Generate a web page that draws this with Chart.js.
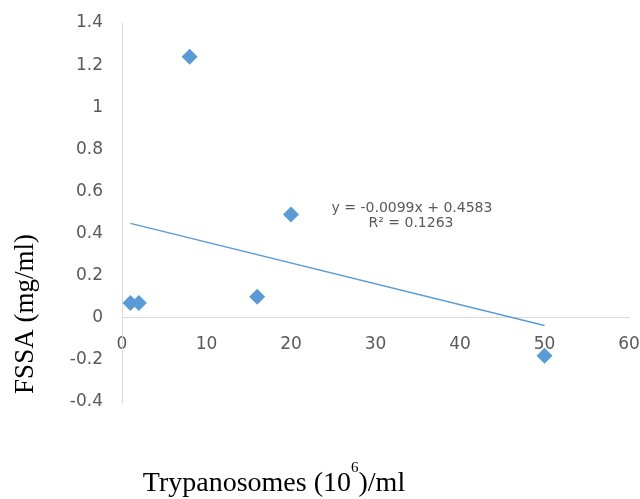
<!DOCTYPE html>
<html>
<head>
<meta charset="utf-8">
<script src="https://cdn.jsdelivr.net/npm/chart.js@4.4.1/dist/chart.umd.min.js"></script>
<style>
    html, body { margin: 0; padding: 0; background: #fff; }
</style>
</head>
<body>
<canvas id="fssaChart" width="640" height="499"></canvas>
<script>
// data
const xValues = [1, 2, 8, 16, 20, 50];
const yValues = [0.07, 0.07, 1.24, 0.10, 0.49, -0.18];

// linear trend line (as printed on the chart)
const trendSlope = -0.0099;
const trendIntercept = 0.4583;
const trendR2 = 0.1263;

const xTitleParts = ['Trypanosomes (10', '6', ')/ml'];
const yTitle = 'FSSA (mg/ml)';

const blue = '#5B9BD5';
const grey = '#595959';

const points = xValues.map((x, i) => ({ x: x, y: yValues[i] }));
const xMin = Math.min(...xValues);
const xMax = Math.max(...xValues);
const trendPoints = [xMin, xMax].map(x => ({ x: x, y: trendSlope * x + trendIntercept }));

// axis titles + equation drawn as text on the canvas
const textPlugin = {
    id: 'textPlugin',
    afterDraw(chart) {
        const ctx = chart.ctx;
        ctx.save();

        // x title with raised 6
        ctx.fillStyle = '#000';
        ctx.textBaseline = 'alphabetic';
        ctx.textAlign = 'left';
        ctx.font = '28px "Liberation Serif"';
        const w1 = ctx.measureText(xTitleParts[0]).width;
        const w3 = ctx.measureText(xTitleParts[2]).width;
        ctx.font = '15px "Liberation Serif"';
        const w2 = ctx.measureText(xTitleParts[1]).width;
        let x = 274 - (w1 + w2 + w3) / 2;
        ctx.font = '28px "Liberation Serif"';
        ctx.fillText(xTitleParts[0], x, 491);
        x += w1;
        ctx.font = '15px "Liberation Serif"';
        ctx.fillText(xTitleParts[1], x, 472);
        x += w2;
        ctx.font = '28px "Liberation Serif"';
        ctx.fillText(xTitleParts[2], x, 491);

        // y title, rotated
        ctx.save();
        ctx.translate(33, 314);
        ctx.rotate(-Math.PI / 2);
        ctx.textAlign = 'center';
        ctx.font = '27px "Liberation Serif"';
        ctx.fillText(yTitle, 0, 0);
        ctx.restore();

        // trend equation
        ctx.fillStyle = grey;
        ctx.font = '14px "DejaVu Sans"';
        ctx.textAlign = 'center';
        ctx.textBaseline = 'middle';
        ctx.fillText('y = ' + trendSlope + 'x + ' + trendIntercept, 412, 208);
        ctx.fillText('R\u00B2 = ' + trendR2, 411, 223);

        ctx.restore();
    }
};

const ctx = document.getElementById('fssaChart').getContext('2d');

const chart = new Chart(ctx, {
    type: 'scatter',
    data: {
        datasets: [{
            label: 'FSSA',
            data: points,
            pointStyle: 'rectRot',
            pointRadius: 8,
            pointHoverRadius: 8,
            backgroundColor: blue,
            borderColor: blue,
            borderWidth: 0,
            order: 1
        }, {
            label: 'Linear',
            type: 'line',
            data: trendPoints,
            borderColor: blue,
            borderWidth: 1.5,
            pointRadius: 0,
            fill: false,
            order: 2
        }]
    },
    options: {
        responsive: false,
        animation: false,
        events: [],
        layout: {
            padding: { left: 0, right: 11, top: 23, bottom: 97 }
        },
        plugins: {
            legend: { display: false },
            tooltip: { enabled: false }
        },
        scales: {
            x: {
                type: 'linear',
                position: { y: 0 },
                min: 0,
                max: 60,
                afterFit: function(scale) {
                    scale.paddingLeft = 0;
                    scale.paddingRight = 0;
                },
                grid: { display: false, drawTicks: false },
                border: { display: true, color: '#d9d9d9', width: 1 },
                ticks: {
                    stepSize: 10,
                    padding: 17,
                    color: grey,
                    font: { family: 'DejaVu Sans', size: 17 }
                }
            },
            y: {
                type: 'linear',
                position: 'left',
                min: -0.4,
                max: 1.4,
                afterFit: function(scale) {
                    scale.width = 122;
                    scale.paddingTop = 0;
                    scale.paddingBottom = 0;
                },
                grid: { display: false, drawTicks: false },
                border: { display: true, color: '#d9d9d9', width: 1 },
                ticks: {
                    stepSize: 0.2,
                    padding: 19,
                    color: grey,
                    font: { family: 'DejaVu Sans', size: 17 },
                    callback: function(value) {
                        return String(parseFloat(value.toFixed(1)));
                    }
                }
            }
        }
    },
    plugins: [textPlugin]
});
</script>
</body>
</html>
